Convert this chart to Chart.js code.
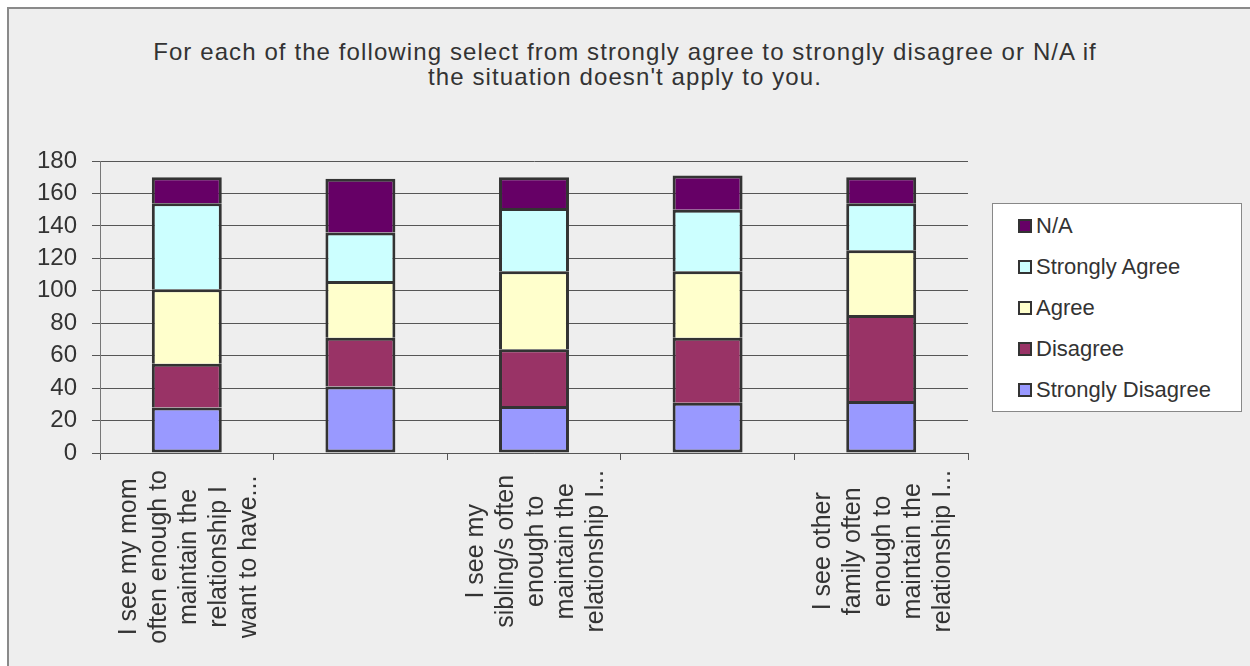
<!DOCTYPE html>
<html>
<head>
<meta charset="utf-8">
<script src="https://cdn.jsdelivr.net/npm/chart.js@4"></script>
<style>
  html, body { margin: 0; padding: 0; background: #fff; }
  body { width: 1250px; height: 666px; position: relative; overflow: hidden; font-family: "Liberation Sans", Arial, sans-serif; color: #333; }
  .frame { position: absolute; left: 7px; top: 7px; width: 1300px; height: 700px; border-left: 2px solid #8a8a8a; border-top: 2px solid #8a8a8a; background: #eeeeee; }
  .title { position: absolute; left: 0; top: 39px; width: 1250px; text-align: center; font-size: 24px; line-height: 25px; letter-spacing: 1.1px; color: #333; }
  .chart-wrap { position: absolute; left: 0; top: 0; width: 1250px; height: 666px; }
  .legend { position: absolute; left: 992px; top: 203px; width: 248px; height: 207px; background: #fff; border: 1px solid #888; }
  .legend-item { position: absolute; left: 25px; height: 26px; line-height: 26px; font-size: 22px; white-space: nowrap; }
  .legend-swatch { position: absolute; left: 0; top: 6px; width: 14px; height: 14px; box-sizing: border-box; border: 2px solid #333; }
  .legend-text { position: absolute; left: 18px; top: 0; }
</style>
</head>
<body>
<div class="frame"></div>
<div class="title">For each of the following select from strongly agree to strongly disagree or N/A if<br>the situation doesn't apply to you.</div>
<div class="chart-wrap"><canvas id="chart" width="1250" height="666"></canvas></div>
<div class="legend" id="legend"></div>
<script>
// Categorie (righe già spezzate come nel grafico originale; 2 e 4 senza etichetta visibile)
const CATEGORY_LINES = [
  ['I see my mom', 'often enough to', 'maintain the', 'relationship I', 'want to have...'],
  [],
  ['I see my', 'sibling/s often', 'enough to', 'maintain the', 'relationship I...'],
  [],
  ['I see other', 'family often', 'enough to', 'maintain the', 'relationship I...'],
];

// Serie, dal basso verso l'alto nella pila
const SERIES = ['Strongly Disagree', 'Disagree', 'Agree', 'Strongly Agree', 'N/A'];
const COLORS = ['#9999ff', '#993366', '#ffffcc', '#ccffff', '#660066'];

const STRONGLY_DISAGREE = [28, 41, 29, 31, 32];
const DISAGREE = [27, 30, 35, 40, 53];
const AGREE = [46, 35, 48, 41, 40];
const STRONGLY_AGREE = [53, 30, 39, 38, 29];
const NOT_APPLICABLE = [16, 33, 19, 21, 16];

const Y_TICKS = [0, 20, 40, 60, 80, 100, 120, 140, 160, 180];

const VALUES = [STRONGLY_DISAGREE, DISAGREE, AGREE, STRONGLY_AGREE, NOT_APPLICABLE];
const FONT = '"Liberation Sans", Arial, sans-serif';

const datasets = SERIES.map((name, i) => ({
  label: name,
  data: VALUES[i],
  backgroundColor: COLORS[i],
  borderColor: '#333',
  borderWidth: 3,
  borderSkipped: i === 0 ? false : 'start', // bordo interno singolo tra i segmenti
  categoryPercentage: 1,
  barPercentage: 0.403,
}));

// Etichette di categoria ruotate, righe centrate (Chart.js le allinea a destra).
const catLabelsPlugin = {
  id: 'catLabels',
  afterDraw(chart) {
    const { ctx, chartArea, scales } = chart;
    ctx.save();
    ctx.font = '25px ' + FONT;
    ctx.fillStyle = '#333';
    ctx.textAlign = 'center';
    ctx.textBaseline = 'middle';
    CATEGORY_LINES.forEach((lines, i) => {
      if (!lines.length) return;
      const cx = scales.x.getPixelForValue(i) + 2;
      const widest = Math.max(...lines.map((l) => ctx.measureText(l).width));
      const cy = chartArea.bottom + 17 + widest / 2;
      lines.forEach((line, j) => {
        ctx.save();
        ctx.translate(cx + (j - (lines.length - 1) / 2) * 30, cy);
        ctx.rotate(-Math.PI / 2);
        ctx.fillText(line, 0, 0);
        ctx.restore();
      });
    });
    ctx.restore();
  },
};

new Chart(document.getElementById('chart'), {
  type: 'bar',
  data: { labels: CATEGORY_LINES.map((l) => l.join(' ')), datasets },
  options: {
    responsive: false,
    animation: false,
    layout: { padding: { top: 161, right: 282, bottom: 0, left: 0 } },
    scales: {
      x: {
        stacked: true,
        afterFit: (s) => { s.height = 213; },
        grid: { offset: true, drawOnChartArea: false, drawTicks: true, tickLength: 7, color: '#555' },
        border: { display: true, color: '#555', width: 1 },
        ticks: { display: false },
      },
      y: {
        stacked: true,
        min: 0,
        max: 180,
        afterFit: (s) => { s.width = 100; },
        afterBuildTicks: (s) => { s.ticks = Y_TICKS.map((v) => ({ value: v })); },
        grid: { color: '#555', tickLength: 8 },
        border: { display: true, color: '#777', width: 1 },
        ticks: { color: '#333', padding: 15, font: { family: FONT, size: 24 } },
      },
    },
    plugins: {
      legend: { display: false },
      title: { display: false },
      tooltip: { enabled: false },
    },
  },
  plugins: [catLabelsPlugin],
});

// Legenda HTML (ordine invertito, N/A in alto)
const legendEl = document.getElementById('legend');
SERIES.map((name, i) => ({ name, color: COLORS[i] })).reverse().forEach((it, k) => {
  const item = document.createElement('div');
  item.className = 'legend-item';
  item.style.top = (9 + k * 41) + 'px';
  item.innerHTML = `<span class="legend-swatch" style="background:${it.color}"></span><span class="legend-text">${it.name}</span>`;
  legendEl.append(item);
});
</script>
</body>
</html>
